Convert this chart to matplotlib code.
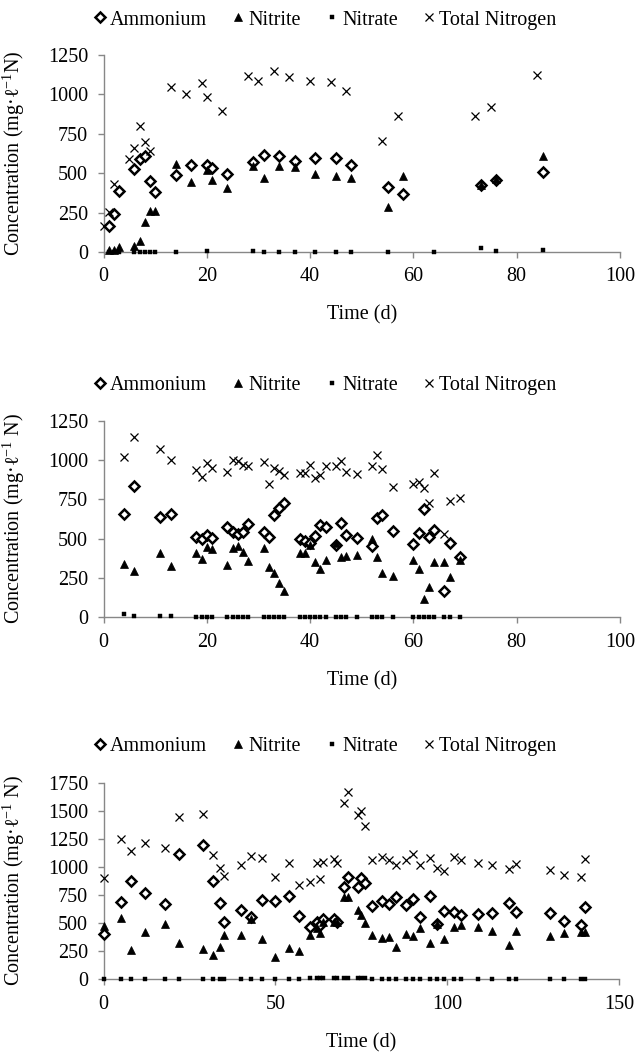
import matplotlib
matplotlib.use('Agg')
import matplotlib.pyplot as plt
from matplotlib.lines import Line2D

plt.rcParams['font.family'] = ['Liberation Serif', 'DejaVu Serif']
plt.rcParams['mathtext.fontset'] = 'custom'
plt.rcParams['mathtext.rm'] = 'Liberation Serif'
plt.rcParams['mathtext.it'] = 'Liberation Serif:italic'

# ---------------- Panel 1 ----------------
days1 = [1, 2, 3, 6, 7, 8, 9, 10, 14, 17, 20, 21, 24, 29, 31, 34, 37, 41, 45, 48, 55, 58, 73, 76, 85]
ammonium1 = [167, 241, 390, 528, 587, 612, 453, 379, 487, 551, 555, 530, 496, 572, 614, 608, 578, 597, 597, 549, 413, 371, 426, 455, 508]
nitrite1 = [10, 15, 30, 36, 68, 191, 263, 263, 561, 447, 519, 460, 407, 544, 470, 544, 538, 492, 481, 470, 286, 481, 422, 464, 608]
nitrate_days1 = [1, 2, 3, 6, 7, 8, 9, 10, 14, 20, 29, 31, 34, 37, 41, 45, 48, 55, 64, 73, 76, 85]
nitrate1 = [2, 2, 3, 3, 3, 3, 3, 3, 0, 5, 5, 3, 0, 0, 0, 0, 0, 0, 0, 25, 8, 15]
tn_days1 = [0, 1, 2, 5, 6, 7, 8, 9, 13, 16, 19, 20, 23, 28, 30, 33, 36, 40, 44, 47, 54, 57, 72, 75, 84]
tn1 = [167, 256, 434, 591, 661, 800, 697, 640, 1044, 1000, 1070, 985, 896, 1117, 1085, 1148, 1112, 1087, 1076, 1021, 703, 862, 862, 922, 1121]

# ---------------- Panel 2 ----------------
days2 = [4, 6, 11, 13, 18, 19, 20, 21, 24, 25, 26, 27, 28, 31, 32, 33, 34, 35, 38, 39,
         40, 41, 42, 43, 45, 46, 47, 49, 52, 53, 54, 56, 60, 61, 62, 63, 64, 66, 67, 69]
ammonium2 = [657, 837, 636, 657, 513, 496, 523, 502, 576, 545, 530, 545, 593, 545, 513, 651, 693, 725, 496, 487,
             475, 517, 587, 576, 460, 602, 523, 502, 456, 629, 651, 549, 466, 534, 689, 513, 555, 167, 470, 381]
nitrite2 = [337, 295, 407, 328, 411, 369, 449, 432, 333, 439, 453, 417, 358, 439, 322, 284, 220, 170, 407, 411,
            460, 354, 305, 364, 470, 381, 390, 396, 496, 386, 284, 263, 364, 305, 114, 195, 354, 354, 254, 364]
nitrate2 = [19, 10, 8, 8, 5, 5, 5, 5, 4, 4, 4, 4, 4, 3, 3, 3, 3, 3, 5, 5,
            5, 5, 5, 5, 5, 5, 5, 5, 4, 4, 4, 5, 4, 4, 4, 4, 4, 5, 5, 5]
tn2 = [1021, 1149, 1068, 1000, 937, 890, 979, 947, 922, 1000, 994, 968, 964, 990, 845, 947, 930, 905, 915, 915,
       968, 884, 905, 962, 962, 996, 926, 911, 962, 1030, 945, 826, 845, 862, 820, 729, 915, 530, 742, 756]

# ---------------- Panel 3 ----------------
days3 = [0, 5, 8, 12, 18, 22, 29, 32, 34, 35, 40, 43, 46, 50, 54, 57, 60, 62, 63, 64,
         67, 68, 70, 71, 74, 75, 76, 78, 81, 83, 85, 88, 90, 92, 95, 97, 99, 102, 104, 109,
         113, 118, 120, 130, 134, 139, 140]
ammonium3 = [403, 685, 875, 771, 667, 1112, 1195, 878, 682, 507, 617, 552, 706, 697, 744, 564, 463, 507, 483, 537,
             537, 513, 824, 913, 824, 899, 854, 655, 697, 667, 735, 661, 712, 557, 744, 492, 611, 602, 572, 581,
             587, 682, 596, 587, 522, 483, 647]
nitrite3 = [475, 549, 261, 424, 489, 320, 267, 217, 291, 394, 394, 534, 359, 196, 276, 255, 394, 460, 415, 513,
            513, 513, 735, 735, 617, 572, 498, 394, 365, 374, 285, 400, 386, 454, 326, 492, 359, 469, 483, 463,
            433, 305, 433, 386, 415, 424, 418]
nitrate3 = [2, 3, 3, 4, 3, 3, 3, 3, 3, 3, 3, 3, 4, 4, 5, 5, 8, 10, 12, 10,
            10, 12, 14, 15, 14, 12, 10, 6, 4, 4, 3, 3, 3, 3, 3, 3, 3, 3, 3, 3,
            3, 3, 3, 3, 3, 5, 6]
tn3 = [899, 1246, 1142, 1210, 1166, 1441, 1468, 1106, 988, 919, 1017, 1097, 1077, 908, 1032, 839, 863, 1032, 890, 1047,
       1068, 1038, 1572, 1670, 1462, 1501, 1367, 1062, 1086, 1062, 1017, 1062, 1112, 1017, 1077, 988, 967, 1086, 1062, 1038,
       1017, 982, 1026, 973, 928, 908, 1071]

series_names = ['Ammonium', 'Nitrite', 'Nitrate', 'Total Nitrogen']

W, H = 637, 1057
fig = plt.figure(figsize=(W / 100, H / 100), dpi=100)

FS = 14.5
GRAY = '#878787'

styles = {
    'Ammonium': dict(marker='D', ms=5.0, mfc='white', mec='black', mew=1.8, ls='none'),
    'Nitrite': dict(marker='^', ms=5.2, mfc='black', mec='black', mew=0.5, ls='none'),
    'Nitrate': dict(marker='s', ms=3.3, mfc='black', mec='black', mew=0.3, ls='none'),
    'Total Nitrogen': dict(marker='x', ms=5.5, mfc='none', mec='black', mew=0.9, ls='none'),
}


def px_axes(left_px, top_px, right_px, bottom_px):
    return [left_px / W, 1 - bottom_px / H, (right_px - left_px) / W, (bottom_px - top_px) / H]


def make_panel(rect, data, xmax, xstep, ymax, ylabel, legend_y_px):
    ax = fig.add_axes(rect)
    for name, (xs, ys) in zip(series_names, data):
        ax.plot(xs, ys, clip_on=False, zorder=3, **styles[name])
    ax.set_xlim(0, xmax)
    ax.set_ylim(0, ymax)
    ax.set_xticks(range(0, xmax + 1, xstep))
    ax.set_yticks(range(0, ymax + 1, 250))
    for s in ['top', 'right']:
        ax.spines[s].set_visible(False)
    for s in ['left', 'bottom']:
        ax.spines[s].set_color(GRAY)
        ax.spines[s].set_linewidth(1.0)
    ax.tick_params(axis='both', direction='out', length=4, width=1.0, color=GRAY,
                   labelsize=FS, labelcolor='black', pad=7)
    ax.set_xlabel('Time (d)', fontsize=FS, labelpad=14)
    ax.set_ylabel(ylabel, fontsize=FS)
    ax.yaxis.set_label_coords(-0.148, 0.5)
    handles = [Line2D([], [], **styles[n]) for n in series_names]
    fig.legend(handles, series_names, loc='center', bbox_to_anchor=(324.5 / W, 1 - legend_y_px / H),
               ncol=4, frameon=False, fontsize=FS, handlelength=0.7, handletextpad=0.15,
               columnspacing=1.2, borderaxespad=0, borderpad=0)
    return ax


make_panel(px_axes(103.5, 55, 620, 252),
           [(days1, ammonium1), (days1, nitrite1), (nitrate_days1, nitrate1), (tn_days1, tn1)],
           100, 20, 1250, 'Concentration (mg·ℓ$^{-1}$N)', 20)
make_panel(px_axes(103.5, 420.7, 620, 617.3),
           [(days2, ammonium2), (days2, nitrite2), (days2, nitrate2), (days2, tn2)],
           100, 20, 1250, 'Concentration (mg·ℓ$^{-1}$ N)', 385)
make_panel(px_axes(103.5, 782.7, 619, 979.3),
           [(days3, ammonium3), (days3, nitrite3), (days3, nitrate3), (days3, tn3)],
           150, 50, 1750, 'Concentration (mg·ℓ$^{-1}$ N)', 746.7)

fig.savefig('out.png', dpi=100)
